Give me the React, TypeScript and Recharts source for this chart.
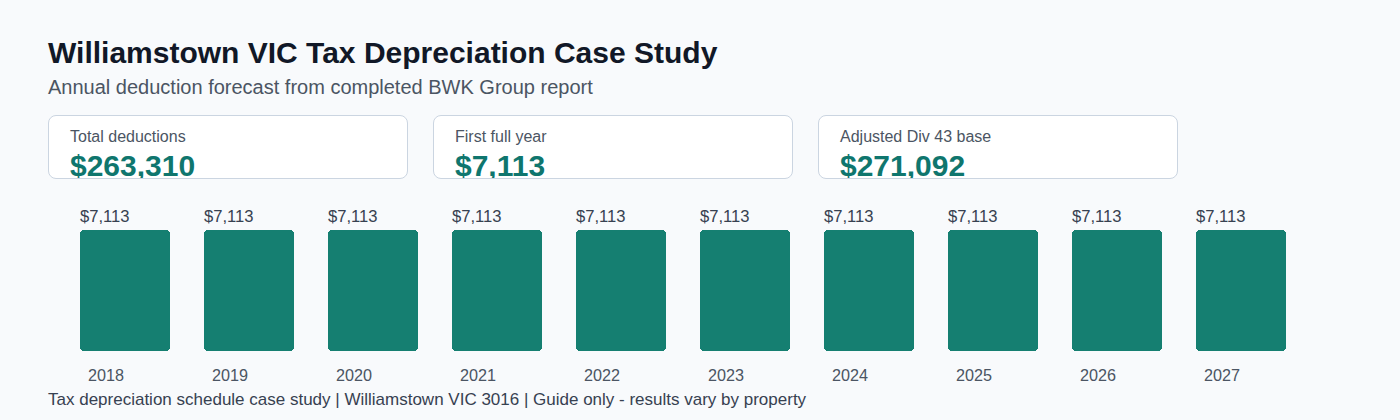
import { Bar, BarChart, LabelList, XAxis, YAxis } from "recharts";

const years = ["2018", "2019", "2020", "2021", "2022", "2023", "2024", "2025", "2026", "2027"];
const deductions = [7113, 7113, 7113, 7113, 7113, 7113, 7113, 7113, 7113, 7113];

const summaryLabels = ["Total deductions", "First full year", "Adjusted Div 43 base"];
const summaryValues = [263310, 7113, 271092];

const chartData = years.map((year, i) => ({ year, deduction: deductions[i] }));

const FONT = '"Liberation Sans", Arial, sans-serif';
const money = (v: number) => "$" + v.toLocaleString("en-US");

function YearTick(props: any) {
  const { x, y, payload } = props;
  return (
    <text x={x - 37} y={y + 30} fill="#4b5563" fontSize={16.2} fontFamily={FONT}>
      {payload.value}
    </text>
  );
}

function ValueLabel(props: any) {
  const { x, y, value } = props;
  return (
    <text x={x} y={y - 8} fill="#374151" fontSize={16.6} fontFamily={FONT}>
      {money(Number(value))}
    </text>
  );
}

function SummaryCard({ label, value, left }: { label: string; value: number; left: number }) {
  return (
    <div
      style={{
        position: "absolute",
        left,
        top: 115,
        width: 360,
        height: 64,
        boxSizing: "border-box",
        background: "#ffffff",
        border: "1px solid #cbd5e1",
        borderRadius: 8,
        overflow: "hidden",
      }}
    >
      <div style={{ position: "absolute", left: 21, top: 12, fontSize: 16, color: "#4b5563", whiteSpace: "nowrap" }}>
        {label}
      </div>
      <div
        style={{
          position: "absolute",
          left: 21,
          top: 33,
          fontSize: 30,
          fontWeight: 700,
          color: "#0f766e",
          whiteSpace: "nowrap",
        }}
      >
        {money(value)}
      </div>
    </div>
  );
}

export default function App() {
  return (
    <div
      style={{
        position: "fixed",
        left: 0,
        top: 0,
        width: 1400,
        height: 420,
        background: "#f8fafc",
        fontFamily: FONT,
        overflow: "hidden",
      }}
    >
      <div style={{ position: "absolute", left: 48, top: 36, fontSize: 30, fontWeight: 700, color: "#111827", whiteSpace: "nowrap" }}>
        Williamstown VIC Tax Depreciation Case Study
      </div>
      <div style={{ position: "absolute", left: 48, top: 76, fontSize: 20, color: "#4b5563", whiteSpace: "nowrap" }}>
        Annual deduction forecast from completed BWK Group report
      </div>

      {summaryLabels.map((label, i) => (
        <SummaryCard key={label} label={label} value={summaryValues[i]} left={48 + i * 385} />
      ))}

      <div style={{ position: "absolute", left: 0, top: 190 }}>
        <BarChart
          width={1400}
          height={230}
          data={chartData}
          margin={{ top: 40, right: 97, left: 63, bottom: 39 }}
        >
          <XAxis
            dataKey="year"
            axisLine={false}
            tickLine={false}
            tickSize={0}
            tickMargin={0}
            height={30}
            interval={0}
            tick={<YearTick />}
          />
          <YAxis hide domain={[0, "dataMax"]} />
          <Bar
            dataKey="deduction"
            fill="#157f71"
            barSize={90}
            radius={4}
            shapeRendering="crispEdges"
            isAnimationActive={false}
          >
            <LabelList dataKey="deduction" content={<ValueLabel />} />
          </Bar>
        </BarChart>
      </div>

      <div style={{ position: "absolute", left: 48, top: 390, fontSize: 17, color: "#374151", whiteSpace: "nowrap" }}>
        Tax depreciation schedule case study | Williamstown VIC 3016 | Guide only - results vary by property
      </div>
    </div>
  );
}
